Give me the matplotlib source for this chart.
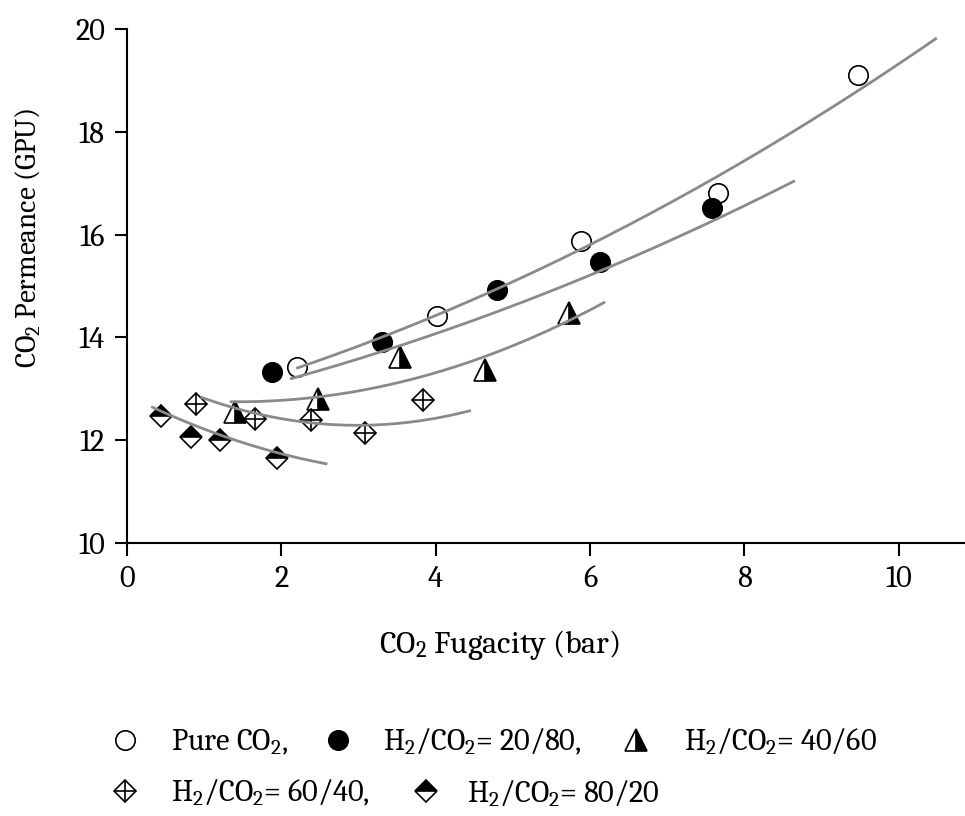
import numpy as np
import matplotlib
matplotlib.use("Agg")
import matplotlib.pyplot as plt
from matplotlib.lines import Line2D

serif = ['Caladea', 'DejaVu Serif']
plt.rcParams['font.family'] = serif
plt.rcParams['mathtext.fontset'] = 'custom'
plt.rcParams['mathtext.rm'] = 'Caladea'
plt.rcParams['mathtext.default'] = 'regular'

# CO2 fugacity (bar) and CO2 permeance (GPU) for each feed composition
x_pure = [2.20, 4.02, 5.89, 7.66, 9.47]
y_pure = [13.43, 14.41, 15.87, 16.80, 19.10]

x_2080 = [1.88, 3.30, 4.79, 6.13, 7.58]
y_2080 = [13.33, 13.92, 14.93, 15.46, 16.51]

x_4060 = [1.40, 2.48, 3.54, 4.64, 5.73]
y_4060 = [12.55, 12.81, 13.61, 13.37, 14.48]

x_6040 = [0.89, 1.66, 2.38, 3.08, 3.84]
y_6040 = [12.71, 12.42, 12.40, 12.14, 12.79]

x_8020 = [0.44, 0.83, 1.20, 1.95]
y_8020 = [12.48, 12.07, 12.01, 11.66]

# Quadratic trend lines: coefficients (a, b, c) of a + b*x + c*x^2 and x range
fit_pure = [12.43, 0.372, 0.0317]
fit_2080 = [12.43, 0.305, 0.0264]
fit_4060 = [12.92, -0.243, 0.0853]
fit_6040 = [13.475, -0.794, 0.133]
fit_8020 = [12.88, -0.755, 0.0916]
range_pure = [2.21, 10.48]
range_2080 = [2.13, 8.64]
range_4060 = [1.35, 6.18]
range_6040 = [0.97, 4.44]
range_8020 = [0.33, 2.58]

x_ticks = [0, 2, 4, 6, 8, 10]
y_ticks = [10, 12, 14, 16, 18, 20]

legend_labels = ['Pure CO$_2$,', 'H$_2$/CO$_2$= 20/80,', 'H$_2$/CO$_2$= 40/60',
                 'H$_2$/CO$_2$= 60/40,', 'H$_2$/CO$_2$= 80/20']

fig = plt.figure(figsize=(9.65, 8.16), dpi=100)
W, H = 965, 816
ax_top, ax_bot, ax_left = 29, 543, 127
ax = fig.add_axes([ax_left / W, (H - ax_bot) / H, (W - ax_left) / W, (ax_bot - ax_top) / H])

fit_color = '#8a8a8a'
for coef, rng in [(fit_pure, range_pure), (fit_2080, range_2080),
                  (fit_4060, range_4060), (fit_6040, range_6040),
                  (fit_8020, range_8020)]:
    xs = np.linspace(rng[0], rng[1], 200)
    ys = coef[0] + coef[1] * xs + coef[2] * xs ** 2
    ax.plot(xs, ys, color=fit_color, lw=2.0, zorder=3)

ms_circ = 14
ms_tri = 15.5
ms_dia = 11.5
mew = 1.2

style_pure = dict(marker='o', ms=ms_circ, mfc='white', mec='black', mew=mew, ls='none')
style_2080 = dict(marker='o', ms=ms_circ, mfc='black', mec='black', mew=mew, ls='none')
style_4060 = dict(marker='^', ms=ms_tri, fillstyle='right', mfc='black',
                  markerfacecoloralt='white', mec='black', mew=mew, ls='none')
style_6040 = dict(marker='D', ms=ms_dia, mfc='white', mec='black', mew=mew, ls='none')
style_6040_cross = dict(marker='+', ms=ms_dia * 1.41, mec='black', mew=mew, ls='none')
style_8020 = dict(marker='D', ms=ms_dia, fillstyle='top', mfc='black',
                  markerfacecoloralt='white', mec='black', mew=mew, ls='none')

ax.plot(x_pure, y_pure, zorder=2, **style_pure)
ax.plot(x_2080, y_2080, zorder=2, **style_2080)
ax.plot(x_4060, y_4060, zorder=2, **style_4060)
ax.plot(x_6040, y_6040, zorder=2, **style_6040)
ax.plot(x_6040, y_6040, zorder=2, **style_6040_cross)
ax.plot(x_8020, y_8020, zorder=2, **style_8020)

ax.set_xlim(0, 10.86)
ax.set_ylim(10, 20)
ax.set_xticks(x_ticks)
ax.set_yticks(y_ticks)
ax.spines['top'].set_visible(False)
ax.spines['right'].set_visible(False)
for s in ('left', 'bottom'):
    ax.spines[s].set_linewidth(1.5)
ax.tick_params(direction='out', length=9, width=1.5, labelsize=22, pad=7)

ax.set_xlabel('CO$_2$ Fugacity (bar)', fontsize=23)
ax.set_ylabel('CO$_2$ Permeance (GPU)', fontsize=21)
ax_h = ax_bot - ax_top
ax_w = W - ax_left
ax.xaxis.set_label_coords((500 - ax_left) / ax_w, -(628 - ax_bot) / ax_h)
ax.yaxis.set_label_coords(-(ax_left - 42) / ax_w, (ax_bot - 238) / ax_h)

# Legend laid out in two rows beneath the axes
def legend_item(px, py, styles, label, tx):
    for st in styles:
        fig.add_artist(Line2D([px / W], [1 - py / H], transform=fig.transFigure, **st))
    fig.text(tx / W, 1 - (py + 10) / H, label, fontsize=22, va='baseline', ha='left')

legend_item(125, 740, [style_pure], legend_labels[0], 171)
legend_item(338, 740, [style_2080], legend_labels[1], 383)
legend_item(636, 740, [style_4060], legend_labels[2], 684)
legend_item(125, 791, [style_6040, style_6040_cross], legend_labels[3], 171)
legend_item(426, 791, [style_8020], legend_labels[4], 467)

fig.savefig('out.png', dpi=100)
